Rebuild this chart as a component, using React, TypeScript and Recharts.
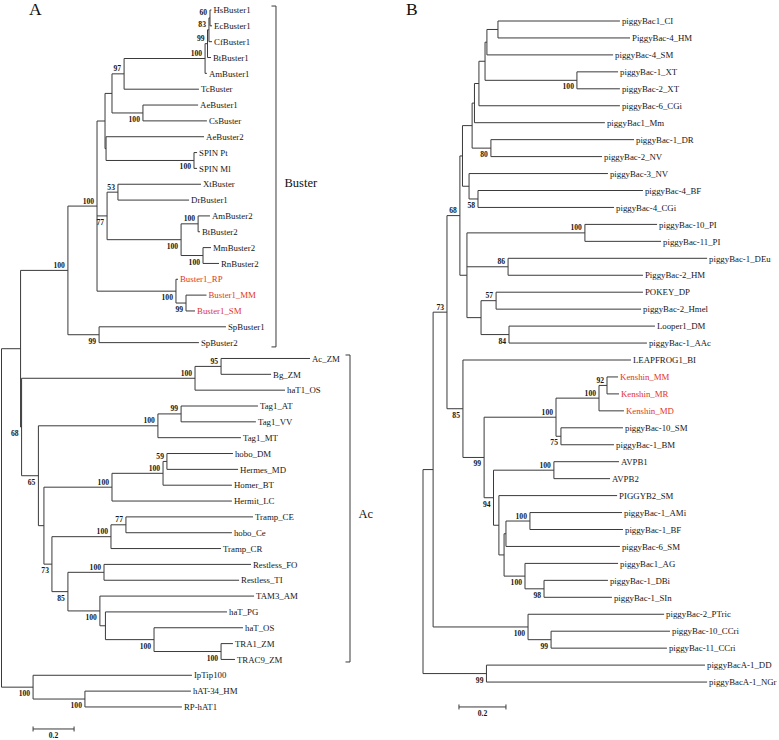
import React from 'react';
import { ScatterChart, Scatter, XAxis, YAxis, ReferenceLine } from 'recharts';

type Kid = number | string;
// [id, children (tip index or clade id), depth from root, bootstrap]
type Clade = [string, Kid[], number, number | null];
// [name, top row, bottom row, depth of bracket, row of label]
type Group = [string, number, number, number, number];

const SERIF = "'Liberation Serif', 'Times New Roman', serif";
const RED = '#e0352b';
const INK = '#161616';
const BRANCH = '#3a3a3a';

// ---------- panel A ----------
const tipsA = [
  'HsBuster1', 'EcBuster1', 'CfBuster1', 'BtBuster1', 'AmBuster1', 'TcBuster', 'AeBuster1', 'CsBuster',
  'AeBuster2', 'SPIN Pt', 'SPIN Ml', 'XtBuster', 'DrBuster1', 'AmBuster2', 'BtBuster2', 'MmBuster2',
  'RnBuster2', 'Buster1_RP', 'Buster1_MM', 'Buster1_SM', 'SpBuster1', 'SpBuster2',
  'Ac_ZM', 'Bg_ZM', 'haT1_OS', 'Tag1_AT', 'Tag1_VV', 'Tag1_MT', 'hobo_DM', 'Hermes_MD', 'Homer_BT',
  'Hermit_LC', 'Tramp_CE', 'hobo_Ce', 'Tramp_CR', 'Restless_FO', 'Restless_TI', 'TAM3_AM', 'haT_PG',
  'haT_OS', 'TRA1_ZM', 'TRAC9_ZM', 'IpTip100', 'hAT-34_HM', 'RP-hAT1',
];
const tipDepthA = [
  1.024, 1.027, 1.027, 1.022, 1.002, 0.963, 0.959, 1.002,
  0.988, 0.954, 0.954, 0.973, 0.915, 1.017, 0.968, 1.022,
  1.061, 0.861, 1.0, 0.944, 1.095, 0.963,
  1.505, 1.315, 1.383, 1.251, 1.241, 1.168, 1.129, 1.154, 1.124,
  1.124, 1.227, 1.124, 1.071, 1.217, 1.159, 1.232, 1.1,
  1.178, 1.129, 1.139, 0.929, 0.924, 0.88,
];
const redA = ['Buster1_RP', 'Buster1_MM', 'Buster1_SM'];
const cladesA: Clade[] = [
  ['n60', [0, 1], 1.017, 60],
  ['n83', ['n60', 2], 1.012, 83],
  ['n99a', ['n83', 3], 1.005, 99],
  ['n100a', ['n99a', 4], 0.993, 100],
  ['n97', ['n100a', 5], 0.598, 97],
  ['nAeCs', [6, 7], 0.69, 100],
  ['nG1', ['n97', 'nAeCs'], 0.539, null],
  ['nSpin', [9, 10], 0.939, 100],
  ['nY', [8, 'nSpin'], 0.51, null],
  ['nX', ['nG1', 'nY'], 0.505, null],
  ['n53', [11, 12], 0.568, 53],
  ['nAmBt', [13, 14], 0.959, 100],
  ['nMmRn', [15, 16], 0.983, 100],
  ['nMam', ['nAmBt', 'nMmRn'], 0.876, 100],
  ['n77', ['n53', 'nMam'], 0.515, 77],
  ['nB1b', [18, 19], 0.9, 99],
  ['nB1', [17, 'nB1b'], 0.851, 100],
  ['nZ', ['nX', 'n77', 'nB1'], 0.466, 100],
  ['nSp', [20, 21], 0.476, 99],
  ['nBuster', ['nZ', 'nSp'], 0.324, 100],
  ['n95', [22, 23], 1.071, 95],
  ['nAcZM', ['n95', 24], 0.944, 100],
  ['nTag99', [25, 26], 0.876, 99],
  ['nTag', ['nTag99', 27], 0.763, 100],
  ['n59', [28, 29], 0.807, 59],
  ['nHobo', ['n59', 30], 0.788, 100],
  ['nHobo2', ['nHobo', 31], 0.539, 100],
  ['n77b', [32, 33], 0.607, 77],
  ['nTramp', ['n77b', 34], 0.534, 100],
  ['nRest', [35, 36], 0.5, 100],
  ['nTRA', [40, 41], 1.071, 100],
  ['nOS', [39, 'nTRA'], 0.744, 100],
  ['nPG', [38, 'nOS'], 0.507, null],
  ['nTAM', [37, 'nPG'], 0.48, 100],
  ['n85', ['nRest', 'nTAM'], 0.324, 85],
  ['n73', ['nTramp', 'n85'], 0.246, 73],
  ['n44', ['nHobo2', 'n73'], 0.207, null],
  ['n65', ['nTag', 'n44'], 0.18, 65],
  ['n68', ['nAcZM', 'n65'], 0.098, 68],
  ['nUp', ['nBuster', 'n68'], 0.093, null],
  ['nHat', [43, 44], 0.407, 100],
  ['nOut', [42, 'nHat'], 0.154, 100],
  ['root', ['nUp', 'nOut'], 0, null],
];
const belowA = [
  'nAeCs', 'nSpin', 'nMmRn', 'nMam', 'n77', 'nB1b', 'nB1', 'nSp', 'nTRA', 'nOS', 'nTAM',
  'n85', 'n73', 'n65', 'n68', 'nHat', 'nOut',
];
const groupsA: Group[] = [
  ['Buster', -0.25, 21.27, 1.339, 10.92],
  ['Ac', 21.78, 41.16, 1.7, 31.76],
];
const scaleA = [0.154, 45.39];

// ---------- panel B ----------
const tipsB = [
  'piggyBac1_CI', 'PiggyBac-4_HM', 'piggyBac-4_SM', 'piggyBac-1_XT', 'piggyBac-2_XT', 'piggyBac-6_CGi',
  'piggyBac1_Mm', 'piggyBac-1_DR', 'piggyBac-2_NV', 'piggyBac-3_NV', 'piggyBac-4_BF', 'piggyBac-4_CGi',
  'piggyBac-10_PI', 'piggyBac-11_PI', 'piggyBac-1_DEu', 'PiggyBac-2_HM', 'POKEY_DP', 'piggyBac-2_Hmel',
  'Looper1_DM', 'piggyBac-1_AAc', 'LEAPFROG1_BI', 'Kenshin_MM', 'Kenshin_MR', 'Kenshin_MD',
  'piggyBac-10_SM', 'piggyBac-1_BM', 'AVPB1', 'AVPB2', 'PIGGYB2_SM', 'piggyBac-1_AMi', 'piggyBac-1_BF',
  'piggyBac-6_SM', 'piggyBac1_AG', 'piggyBac-1_DBi', 'piggyBac-1_SIn', 'piggyBac-2_PTric',
  'piggyBac-10_CCri', 'piggyBac-11_CCri', 'piggyBacA-1_DD', 'piggyBacA-1_NGr',
];
const tipDepthB = [
  0.838, 0.881, 0.809, 0.83, 0.838, 0.838,
  0.774, 0.898, 0.762, 0.787, 0.936, 0.813,
  0.996, 1.013, 1.209, 0.936, 0.936, 0.928,
  0.987, 0.953, 0.885, 0.83, 0.834, 0.855,
  0.851, 0.813, 0.834, 0.796, 0.826, 0.847, 0.851,
  0.838, 0.83, 0.787, 0.804, 1.026,
  1.051, 1.038, 1.2, 1.209,
];
const redB = ['Kenshin_MM', 'Kenshin_MR', 'Kenshin_MD'];
const cladesB: Clade[] = [
  ['nCIHM', [0, 1], 0.319, null],
  ['n487', ['nCIHM', 2], 0.272, null],
  ['nXT', [3, 4], 0.655, 100],
  ['n485', ['n487', 'nXT'], 0.264, null],
  ['n479', ['n485', 5], 0.238, null],
  ['n474', ['n479', 6], 0.219, null],
  ['n80', [7, 8], 0.289, 80],
  ['n472', ['n474', 'n80'], 0.209, null],
  ['n58', [10, 11], 0.234, 58],
  ['n469', [9, 'n58'], 0.196, null],
  ['n462', ['n472', 'n469'], 0.168, null],
  ['nPI', [12, 13], 0.689, 100],
  ['n86', [14, 15], 0.362, 86],
  ['n57', [16, 17], 0.311, 57],
  ['n84', [18, 19], 0.366, 84],
  ['n481', ['n57', 'n84'], 0.247, null],
  ['n467', ['nPI', 'n86', 'n481'], 0.187, null],
  ['n68', ['n462', 'n467'], 0.157, 68],
  ['n92', [21, 22], 0.783, 92],
  ['nKen', ['n92', 23], 0.749, 100],
  ['n75', [24, 25], 0.587, 75],
  ['nKen2', ['nKen', 'n75'], 0.566, 100],
  ['nAVPB', [26, 27], 0.557, 100],
  ['nAMi', [29, 30], 0.455, 100],
  ['nA', ['nAMi', 31], 0.353, null],
  ['n98', [33, 34], 0.515, 98],
  ['nAG', [32, 'n98'], 0.434, 100],
  ['nB', ['nA', 'nAG'], 0.345, null],
  ['n500', [28, 'nB'], 0.323, null],
  ['n94', ['nAVPB', 'n500'], 0.3, 94],
  ['n99', ['nKen2', 'n94'], 0.26, 99],
  ['n85', [20, 'n99'], 0.17, 85],
  ['n73', ['n68', 'n85'], 0.102, 73],
  ['n99CC', [36, 37], 0.545, 99],
  ['nPT', [35, 'n99CC'], 0.447, 100],
  ['n433', ['n73', 'nPT'], 0.043, null],
  ['nDD', [38, 39], 0.27, 99],
  ['root', ['n433', 'nDD'], 0, null],
];
const belowB = ['nXT', 'n80', 'n58', 'n84', 'n75', 'n98', 'nAG', 'n94', 'n99', 'n85', 'n99CC', 'nPT', 'nDD'];
const groupsB: Group[] = [];
const scaleB = [0.153, 40.47];

type Pt = { x: number; y: number };

function buildTree(tips: string[], depth: number[], clades: Clade[]) {
  const byId = new Map<Kid, Clade>(clades.map((c) => [c[0], c] as [Kid, Clade]));
  const pos = new Map<Kid, Pt>();
  tips.forEach((_, i) => pos.set(i, { x: depth[i], y: i }));
  const place = (k: Kid): Pt => {
    const known = pos.get(k);
    if (known) return known;
    const c = byId.get(k)!;
    const ps = c[1].map(place);
    const p = { x: c[2], y: (ps[0].y + ps[ps.length - 1].y) / 2 };
    pos.set(k, p);
    return p;
  };
  const segs: number[][] = [];
  clades.forEach(([id, kids]) => {
    const p = place(id);
    const ps = kids.map(place);
    segs.push([p.x, ps[0].y, p.x, ps[ps.length - 1].y]);
    ps.forEach((c) => segs.push([p.x, c.y, c.x, c.y]));
  });
  return { pos, segs };
}

interface PanelProps {
  width: number;
  tips: string[];
  depth: number[];
  clades: Clade[];
  below: string[];
  red: string[];
  groups: Group[];
  scale: number[];
  pxPerUnit: number;
  rootPx: number;
  rowPx: number;
  firstRowPx: number;
}

const H = 740;

const TreePanel: React.FC<PanelProps> = (p) => {
  const { pos, segs } = buildTree(p.tips, p.depth, p.clades);
  const xDomain = [-p.rootPx / p.pxPerUnit, (p.width - p.rootPx) / p.pxPerUnit];
  const yDomain = [-p.firstRowPx / p.rowPx, (H - p.firstRowPx) / p.rowPx];

  const tipData = p.tips.map((name, i) => ({ x: p.depth[i], y: i, name, red: p.red.includes(name) }));
  const bootData = p.clades
    .filter((c) => c[3] !== null)
    .map((c) => ({ ...pos.get(c[0])!, label: String(c[3]), below: p.below.includes(c[0]) }));
  const groupData = p.groups.map((g) => ({ x: g[3], y: g[4], name: g[0] }));
  const scaleData = [{ x: p.scale[0] + 0.1, y: p.scale[1], name: '0.2' }];

  const tick = 4.5 / p.pxPerUnit;
  const barTick = 2.5 / p.rowPx;
  const extra: number[][] = [];
  p.groups.forEach((g) => {
    extra.push([g[3], g[1], g[3], g[2]]);
    extra.push([g[3] - tick, g[1], g[3], g[1]]);
    extra.push([g[3] - tick, g[2], g[3], g[2]]);
  });
  const [s0, sr] = p.scale;
  extra.push([s0, sr, s0 + 0.2, sr]);
  extra.push([s0, sr - barTick, s0, sr + barTick]);
  extra.push([s0 + 0.2, sr - barTick, s0 + 0.2, sr + barTick]);

  return (
    <ScatterChart width={p.width} height={H} margin={{ top: 0, right: 0, bottom: 0, left: 0 }}>
      <XAxis type="number" dataKey="x" domain={xDomain} hide allowDataOverflow />
      <YAxis type="number" dataKey="y" domain={yDomain} reversed hide allowDataOverflow />
      {segs.concat(extra).map((s, i) => (
        <ReferenceLine
          key={'s' + i}
          segment={[{ x: s[0], y: s[1] }, { x: s[2], y: s[3] }]}
          stroke={BRANCH}
          strokeWidth={1}
          ifOverflow="visible"
        />
      ))}
      <Scatter
        data={tipData}
        isAnimationActive={false}
        shape={(q: any) => (
          <text x={q.cx + 2} y={q.cy + 3.2} fontSize={8.8} fontFamily={SERIF} fill={q.payload.red ? RED : INK}>
            {q.payload.name}
          </text>
        )}
      />
      <Scatter
        data={bootData}
        isAnimationActive={false}
        shape={(q: any) => (
          <text
            x={q.cx - 3}
            y={q.payload.below ? q.cy + 9 : q.cy - 2.5}
            textAnchor="end"
            fontSize={7.6}
            fontWeight="bold"
            fontFamily={SERIF}
            fill={INK}
          >
            {q.payload.label}
          </text>
        )}
      />
      <Scatter
        data={groupData}
        isAnimationActive={false}
        shape={(q: any) => (
          <text x={q.cx + 8.5} y={q.cy + 4.5} fontSize={12.5} fontFamily={SERIF} fill="#111">
            {q.payload.name}
          </text>
        )}
      />
      <Scatter
        data={scaleData}
        isAnimationActive={false}
        shape={(q: any) => (
          <text x={q.cx} y={q.cy + 9.5} textAnchor="middle" fontSize={7.6} fontWeight="bold" fontFamily={SERIF} fill={INK}>
            {q.payload.name}
          </text>
        )}
      />
    </ScatterChart>
  );
};

export default function App() {
  return (
    <div style={{ position: 'absolute', left: 0, top: 0, width: 779, height: H, background: '#fff' }}>
      <div style={{ position: 'absolute', left: 0, top: 0 }}>
        <TreePanel
          width={390}
          tips={tipsA}
          depth={tipDepthA}
          clades={cladesA}
          below={belowA}
          red={redA}
          groups={groupsA}
          scale={scaleA}
          pxPerUnit={205}
          rootPx={1.5}
          rowPx={15.84}
          firstRowPx={10}
        />
      </div>
      <div style={{ position: 'absolute', left: 390, top: 0 }}>
        <TreePanel
          width={389}
          tips={tipsB}
          depth={tipDepthB}
          clades={cladesB}
          below={belowB}
          red={redB}
          groups={groupsB}
          scale={scaleB}
          pxPerUnit={235}
          rootPx={33}
          rowPx={16.95}
          firstRowPx={21}
        />
      </div>
      <svg width={779} height={30} style={{ position: 'absolute', left: 0, top: 0, pointerEvents: 'none' }}>
        <text x={29} y={14.5} fontSize={17.5} fontFamily={SERIF} fill="#111">A</text>
        <text x={406} y={14.5} fontSize={17.5} fontFamily={SERIF} fill="#111">B</text>
      </svg>
    </div>
  );
}
